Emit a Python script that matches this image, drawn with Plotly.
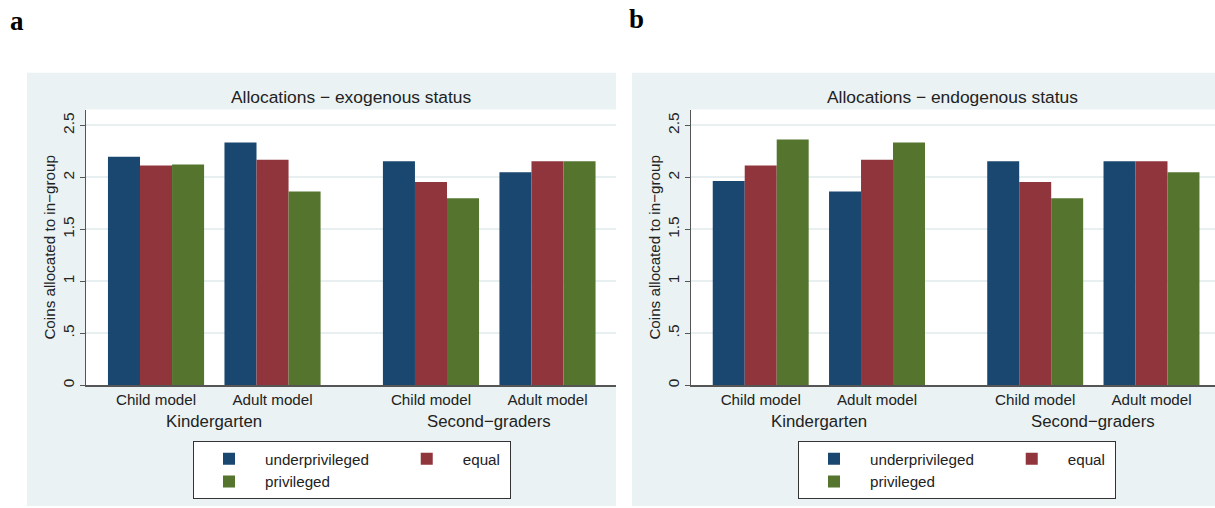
import plotly.graph_objects as go

# ---------------- data ----------------
models = ["Child model", "Adult model", "Child model", "Adult model"]
grades = ["Kindergarten", "Second\u2212graders"]
series = ["underprivileged", "equal", "privileged"]

exo_underprivileged = [2.20, 2.335, 2.155, 2.05]
exo_equal = [2.115, 2.17, 1.955, 2.155]
exo_privileged = [2.125, 1.865, 1.80, 2.155]

endo_underprivileged = [1.965, 1.865, 2.155, 2.155]
endo_equal = [2.115, 2.17, 1.955, 2.155]
endo_privileged = [2.365, 2.335, 1.80, 2.05]

y_ticks = [0, 0.5, 1, 1.5, 2, 2.5]
y_ticklabels = ["0", ".5", "1", "1.5", "2", "2.5"]

titles = ["Allocations \u2212 exogenous status", "Allocations \u2212 endogenous status"]
y_title = "Coins allocated to in\u2212group"

# ---------------- style ----------------
colors = {"underprivileged": "#1a476f", "equal": "#90353b", "privileged": "#55752f"}
panel_bg = "#eaf2f3"
grid_col = "#e8eff1"
axis_col = "#555555"
FONT = "Liberation Sans"
W, H = 1215, 508

# layout positions of groups (within-grade spacing 1, between-grade gap larger)
grade_gap = 1.36
centers = [0, 1, grade_gap + 1, grade_gap + 2]
bw = 0.275
offsets = {"underprivileged": -1.5 * bw, "equal": -0.5 * bw, "privileged": 0.5 * bw}
# extra spacing after first legend column
legend_pad = {"underprivileged": "&nbsp;" * 4, "equal": "&nbsp;", "privileged": ""}

def px(xp):
    return xp / W

def py(yp):
    return (H - yp) / H

fig = go.Figure()

data_sets = [
    {"underprivileged": exo_underprivileged, "equal": exo_equal, "privileged": exo_privileged},
    {"underprivileged": endo_underprivileged, "equal": endo_equal, "privileged": endo_privileged},
]
groups = {"underprivileged": "g1", "equal": "g2", "privileged": "g1"}

for i, ds in enumerate(data_sets):
    xa = "x" if i == 0 else "x2"
    ya = "y" if i == 0 else "y2"
    lg = "legend" if i == 0 else "legend2"
    for s in series:
        fig.add_trace(go.Bar(
            x=centers, y=ds[s], name=s + legend_pad[s], xaxis=xa, yaxis=ya,
            width=bw, offset=offsets[s],
            marker=dict(color=colors[s], line=dict(width=0)),
            legend=lg, legendgroup=groups[s] + str(i),
            hoverinfo="skip",
        ))

ydom = [py(386.7), py(110)]
xdom_a = [px(86), px(616)]
xdom_b = [px(690.7), 1.0]

yaxis_common = dict(
    range=[0, 2.653], tickvals=y_ticks, ticktext=y_ticklabels, tickangle=-90,
    ticks="outside", ticklen=5, tickcolor=axis_col, tickwidth=1,
    showline=True, linecolor=axis_col, linewidth=1,
    showgrid=True, gridcolor=grid_col, gridwidth=1.5, zeroline=False,
    tickfont=dict(family=FONT, size=15.5, color="#222"),
    title=dict(text=y_title, font=dict(family=FONT, size=15.2, color="#222"), standoff=0),
    domain=ydom,
)
xaxis_common = dict(
    tickvals=centers, ticktext=models, ticks="", showline=True, linecolor=axis_col,
    linewidth=1.5, showgrid=False, zeroline=False,
    tickfont=dict(family=FONT, size=15.2, color="#222"),
)

legend_common = dict(
    yanchor="top", xanchor="left", y=py(443),
    orientation="h", traceorder="grouped", tracegroupgap=10,
    bgcolor="white", bordercolor="#333", borderwidth=1,
    font=dict(family=FONT, size=15.2, color="#222"), itemwidth=62,
)

fig.update_layout(
    width=W, height=H, margin=dict(l=0, r=0, t=0, b=0),
    paper_bgcolor="white", plot_bgcolor="white",
    barmode="overlay",
    xaxis=dict(domain=xdom_a, range=[-0.601, 3.948], anchor="y", **xaxis_common),
    yaxis=dict(anchor="x", **yaxis_common),
    xaxis2=dict(domain=xdom_b, range=[-0.602, 3.906], anchor="y2", **xaxis_common),
    yaxis2=dict(anchor="x2", **yaxis_common),
    legend=dict(x=px(193), **legend_common),
    legend2=dict(x=px(798), **legend_common),
    showlegend=True,
)

# panel backgrounds and white plot regions
shapes = []
for (x0, x1) in [(27, 616), (632, 1215)]:
    shapes.append(dict(type="rect", xref="paper", yref="paper", x0=px(x0), x1=px(x1),
                       y0=0, y1=py(73), fillcolor=panel_bg, line=dict(width=0), layer="below"))
for dom in [xdom_a, xdom_b]:
    shapes.append(dict(type="rect", xref="paper", yref="paper", x0=dom[0], x1=dom[1],
                       y0=ydom[0], y1=ydom[1], fillcolor="white", line=dict(width=0), layer="below"))
fig.update_layout(shapes=shapes)

ann = []
for i, xr in enumerate(["x", "x2"]):
    ann.append(dict(text=titles[i], xref=xr + " domain", x=0.5, yref="paper", y=py(97),
                    yanchor="middle", showarrow=False,
                    font=dict(family=FONT, size=17.4, color="#222")))
    ann.append(dict(text=grades[0], xref=xr, x=(centers[0] + centers[1]) / 2, yref="paper",
                    y=py(423), yanchor="middle", showarrow=False,
                    font=dict(family=FONT, size=16.8, color="#222")))
    ann.append(dict(text=grades[1], xref=xr, x=(centers[2] + centers[3]) / 2, yref="paper",
                    y=py(423), yanchor="middle", showarrow=False,
                    font=dict(family=FONT, size=16.8, color="#222")))
ann.append(dict(text="<b>a</b>", xref="paper", yref="paper", x=px(8), y=py(21), xanchor="left",
                yanchor="middle", showarrow=False,
                font=dict(family="Liberation Serif", size=27, color="black")))
ann.append(dict(text="<b>b</b>", xref="paper", yref="paper", x=px(627), y=py(19), xanchor="left",
                yanchor="middle", showarrow=False,
                font=dict(family="Liberation Serif", size=27, color="black")))
fig.update_layout(annotations=ann)

fig.write_html("out.html", config={"displayModeBar": False},
               post_script="document.body.style.margin='0';")
